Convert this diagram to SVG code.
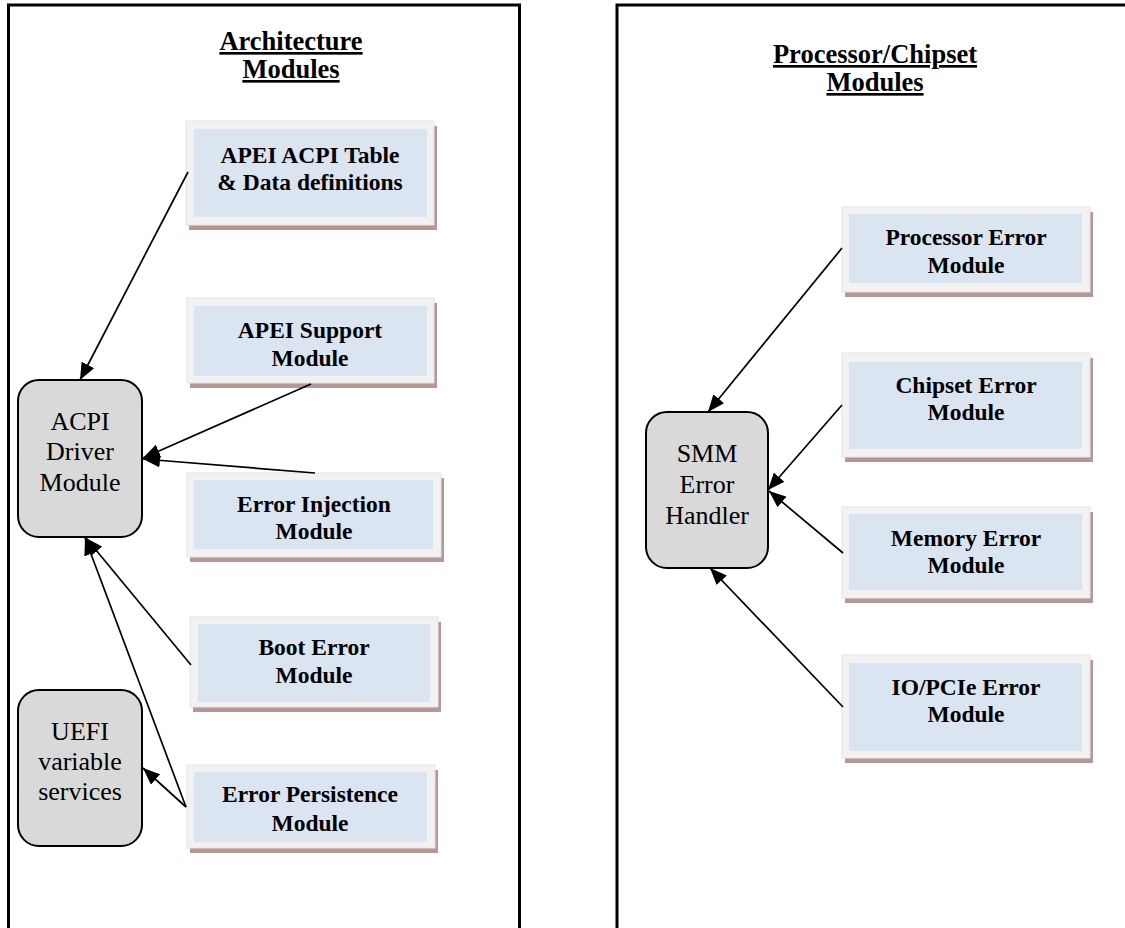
<svg xmlns="http://www.w3.org/2000/svg" width="1125" height="928" viewBox="0 0 1125 928">
  <style>
    .frame { fill: none; stroke: #000; stroke-width: 3; }
    .title { font-family: "Liberation Serif", "Times New Roman", serif; font-weight: bold; font-size: 26.5px; text-anchor: middle; text-decoration: underline; fill: #000; }
    .shadow { fill: #b99696; }
    .outer { fill: #f2f2f2; stroke: #e4e4e4; stroke-width: 1; }
    .inner { fill: #dbe5f1; }
    .mod { font-family: "Liberation Serif", "Times New Roman", serif; font-weight: bold; font-size: 23.5px; text-anchor: middle; fill: #000; }
    .node { fill: #d9d9d9; stroke: #000; stroke-width: 2; }
    .ntext { font-family: "Liberation Serif", "Times New Roman", serif; font-size: 26px; text-anchor: middle; fill: #000; }
    .conn { stroke: #000; stroke-width: 1.7; fill: none; marker-end: url(#arrow); }
  </style>
  <defs>
    <marker id="arrow" markerUnits="userSpaceOnUse" markerWidth="18" markerHeight="14" refX="17" refY="7" orient="auto">
      <path d="M0,0 L17,7 L0,14 z" fill="#000"/>
    </marker>
  </defs>

  <rect width="1125" height="928" fill="#fff"/>

  <!-- Frames -->
  <g id="frame-architecture">
    <rect class="frame" x="8.5" y="5" width="511" height="940"/>
    <text class="title" x="291" y="50">Architecture</text>
    <text class="title" x="291" y="78">Modules</text>
  </g>
  <g id="frame-processor">
    <rect class="frame" x="617" y="5" width="540" height="940"/>
    <text class="title" x="875" y="63">Processor/Chipset</text>
    <text class="title" x="875" y="91">Modules</text>
  </g>

  <!-- Architecture modules -->
  <g id="apei-table">
    <rect class="shadow" x="189" y="126" width="248" height="104"/>
    <rect class="outer" x="186" y="121" width="248" height="104"/>
    <rect class="inner" x="194" y="129" width="233" height="88"/>
    <text class="mod" x="310" y="163">APEI ACPI Table</text>
    <text class="mod" x="310" y="190">&amp; Data definitions</text>
  </g>
  <g id="apei-support">
    <rect class="shadow" x="190" y="303" width="247" height="85"/>
    <rect class="outer" x="187" y="298" width="247" height="85"/>
    <rect class="inner" x="194" y="306" width="233" height="70"/>
    <text class="mod" x="310" y="338">APEI Support</text>
    <text class="mod" x="310" y="366">Module</text>
  </g>
  <g id="error-injection">
    <rect class="shadow" x="190" y="478" width="254" height="84"/>
    <rect class="outer" x="187" y="473" width="254" height="84"/>
    <rect class="inner" x="194" y="480" width="239" height="69"/>
    <text class="mod" x="314" y="512">Error Injection</text>
    <text class="mod" x="314" y="539">Module</text>
  </g>
  <g id="boot-error">
    <rect class="shadow" x="193" y="622" width="248" height="90"/>
    <rect class="outer" x="190" y="617" width="248" height="90"/>
    <rect class="inner" x="198" y="624" width="232" height="78"/>
    <text class="mod" x="314" y="655">Boot Error</text>
    <text class="mod" x="314" y="683">Module</text>
  </g>
  <g id="error-persistence">
    <rect class="shadow" x="190" y="770" width="248" height="83"/>
    <rect class="outer" x="187" y="765" width="248" height="83"/>
    <rect class="inner" x="194" y="772" width="233" height="70"/>
    <text class="mod" x="310" y="802">Error Persistence</text>
    <text class="mod" x="310" y="831">Module</text>
  </g>

  <g id="acpi-driver">
    <rect class="node" x="18" y="380" width="124" height="157" rx="21"/>
    <text class="ntext" x="80" y="430">ACPI</text>
    <text class="ntext" x="80" y="460">Driver</text>
    <text class="ntext" x="80" y="491">Module</text>
  </g>
  <g id="uefi-variable">
    <rect class="node" x="18" y="690" width="124" height="156" rx="21"/>
    <text class="ntext" x="80" y="740">UEFI</text>
    <text class="ntext" x="80" y="770">variable</text>
    <text class="ntext" x="80" y="800">services</text>
  </g>

  <!-- Processor/Chipset modules -->
  <g id="processor-error">
    <rect class="shadow" x="845" y="212" width="248" height="85"/>
    <rect class="outer" x="842" y="207" width="248" height="85"/>
    <rect class="inner" x="849" y="214" width="233" height="69"/>
    <text class="mod" x="966" y="245">Processor Error</text>
    <text class="mod" x="966" y="273">Module</text>
  </g>
  <g id="chipset-error">
    <rect class="shadow" x="845" y="358" width="248" height="104"/>
    <rect class="outer" x="842" y="353" width="248" height="104"/>
    <rect class="inner" x="849" y="362" width="233" height="87"/>
    <text class="mod" x="966" y="393">Chipset Error</text>
    <text class="mod" x="966" y="420">Module</text>
  </g>
  <g id="memory-error">
    <rect class="shadow" x="845" y="512" width="248" height="91"/>
    <rect class="outer" x="842" y="507" width="248" height="91"/>
    <rect class="inner" x="849" y="514" width="233" height="76"/>
    <text class="mod" x="966" y="546">Memory Error</text>
    <text class="mod" x="966" y="573">Module</text>
  </g>
  <g id="io-pcie-error">
    <rect class="shadow" x="845" y="660" width="248" height="103"/>
    <rect class="outer" x="842" y="655" width="248" height="103"/>
    <rect class="inner" x="849" y="663" width="233" height="88"/>
    <text class="mod" x="966" y="695">IO/PCIe Error</text>
    <text class="mod" x="966" y="722">Module</text>
  </g>

  <g id="smm-handler">
    <rect class="node" x="646" y="412" width="122" height="156" rx="21"/>
    <text class="ntext" x="707" y="462">SMM</text>
    <text class="ntext" x="707" y="493">Error</text>
    <text class="ntext" x="707" y="524">Handler</text>
  </g>

  <!-- Connectors -->
  <g id="connectors">
    <line class="conn" x1="188" y1="172" x2="80" y2="380"/>
    <line class="conn" x1="311" y1="384" x2="143" y2="458"/>
    <line class="conn" x1="315" y1="473" x2="143" y2="459"/>
    <line class="conn" x1="191" y1="665" x2="86" y2="538"/>
    <line class="conn" x1="186" y1="807" x2="85" y2="538"/>
    <line class="conn" x1="186" y1="807" x2="143" y2="768"/>
    <line class="conn" x1="842" y1="248" x2="708" y2="412"/>
    <line class="conn" x1="842" y1="405" x2="768" y2="490"/>
    <line class="conn" x1="843" y1="553" x2="769" y2="491"/>
    <line class="conn" x1="843" y1="707" x2="710" y2="568"/>
  </g>
</svg>
